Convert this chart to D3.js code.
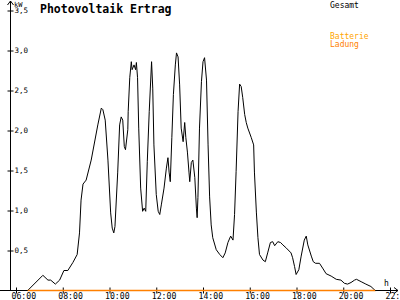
<!DOCTYPE html>
<html>
<head>
<meta charset="utf-8">
<script src="https://cdn.jsdelivr.net/npm/d3@7/dist/d3.min.js"></script>
<style>
  body { margin: 0; background: #fff; }
  svg { display: block; }
  text { font-family: "DejaVu Sans Mono", monospace; }
</style>
</head>
<body>
<script>
// Gesamt (kW)
var gesamtTimes = ["06:30","07:09","07:22","07:29","07:41","07:52","08:03","08:13","08:26","08:37",
  "08:43","08:47","08:52","09:00","09:13","09:30","09:39","09:43","09:49","09:56",
  "10:03","10:07","10:11","10:14","10:21","10:26","10:30","10:34","10:38","10:41",
  "10:47","10:48","10:52","10:56","10:58","11:03","11:07","11:09","11:12","11:15",
  "11:20","11:25","11:29","11:33","11:37","11:42","11:48","11:51","11:54","12:00",
  "12:05","12:09","12:13","12:20","12:26","12:30","12:33","12:36","12:40","12:44",
  "12:49","12:52","12:56","13:00","13:04","13:09","13:13","13:16","13:20","13:24",
  "13:26","13:30","13:34","13:39","13:43","13:45","13:47","13:51","13:56","14:00",
  "14:04","14:09","14:13","14:17","14:21","14:25","14:34","14:43","14:51","14:57",
  "15:04","15:11","15:17","15:21","15:25","15:30","15:34","15:38","15:42","15:47",
  "15:51","15:55","16:04","16:10","16:12","16:17","16:21","16:25","16:34","16:40",
  "16:46","16:53","16:59","17:04","17:12","17:19","17:25","17:34","17:46","17:50",
  "17:55","17:59","18:06","18:12","18:20","18:25","18:29","18:38","18:43","18:49",
  "18:59","19:07","19:16","19:29","19:42","19:54","20:03","20:11","20:20","20:29",
  "20:34","20:46","20:58","21:11","21:22"];
var gesamtValues = [0,0.19,0.13,0.13,0.08,0.13,0.25,0.25,0.35,0.45,
  0.72,1.13,1.33,1.38,1.63,2.07,2.28,2.26,2.13,1.63,
  0.97,0.78,0.72,0.80,1.47,2.07,2.17,2.13,1.80,1.76,
  2.01,2.24,2.66,2.86,2.76,2.82,2.76,2.85,2.66,2.03,
  1.28,0.99,1.03,0.99,1.61,2.24,2.86,2.53,1.82,1.20,
  0.99,0.95,1.07,1.28,1.53,1.66,1.48,1.36,1.91,2.45,
  2.82,2.97,2.92,2.57,2.03,1.86,2.10,1.91,1.73,1.48,
  1.36,1.60,1.63,1.41,1.03,0.91,1.16,2.03,2.61,2.86,
  2.91,2.63,1.82,1.17,0.82,0.66,0.51,0.45,0.41,0.47,
  0.60,0.68,0.63,0.95,1.49,2.24,2.58,2.55,2.41,2.20,
  2.10,2.03,1.91,1.82,1.48,0.98,0.66,0.45,0.38,0.36,
  0.47,0.60,0.61,0.56,0.61,0.60,0.57,0.53,0.47,0.41,
  0.30,0.20,0.26,0.43,0.63,0.68,0.57,0.43,0.36,0.34,
  0.34,0.28,0.21,0.18,0.14,0.13,0.09,0.08,0.10,0.13,
  0.14,0.11,0.08,0.05,0];

// Batterie Ladung (kW)
var ladungTimes = ["06:30","21:22"];
var ladungValues = [0,0];

var yTicks = [0.5,1,1.5,2,2.5,3,3.5];
var xTicks = [6,8,10,12,14,16,18,20,22];

var W = 400, H = 300;

function hours(s) {
  var p = s.split(":");
  return +p[0] + (+p[1]) / 60;
}

var x = d3.scaleLinear().domain([6, 22]).range([16, 390]);
var y = d3.scaleLinear().domain([0, 3.5]).range([290.5, 10.5]);

var svg = d3.select("body").append("svg").attr("width", W).attr("height", H);

// y axis
var gy = svg.append("g").attr("transform", "translate(10.5,0)")
  .call(d3.axisLeft(y).tickValues(yTicks).tickSize(0).tickPadding(0)
    .tickFormat(function (d) { return d3.format(".1f")(d).replace(".", ","); }));
gy.select(".domain").remove();
gy.selectAll(".tick line").attr("x1", -3).attr("x2", 3).attr("stroke", "#000");
gy.selectAll(".tick text").attr("x", 4).attr("dy", "0.32em")
  .attr("text-anchor", "start").attr("font-size", 7.5)
  .attr("font-family", "DejaVu Sans Mono").attr("fill", "#000");

// x axis
var gx = svg.append("g").attr("transform", "translate(0,290.5)")
  .call(d3.axisBottom(x).tickValues(xTicks).tickSize(0).tickPadding(0)
    .tickFormat(function (d) { return d3.format("02d")(d) + ":00"; }));
gx.select(".domain").remove();
gx.selectAll(".tick line").attr("y1", -3).attr("y2", 3).attr("stroke", "#000");
gx.selectAll(".tick text").attr("x", -5).attr("y", 8).attr("dy", 0)
  .attr("text-anchor", "start").attr("font-size", 8.2)
  .attr("font-family", "DejaVu Sans Mono").attr("fill", "#000");

// axis lines with arrows
svg.append("line").attr("x1", 10.5).attr("x2", 10.5).attr("y1", 1).attr("y2", 291)
  .attr("stroke", "#000");
svg.append("path").attr("d", "M7.5,5 L10.5,1 L13.5,5").attr("fill", "none").attr("stroke", "#000");
svg.append("line").attr("x1", 0).attr("x2", 398).attr("y1", 290.5).attr("y2", 290.5)
  .attr("stroke", "#000");
svg.append("path").attr("d", "M394,287.5 L398,290.5 L394,293.5").attr("fill", "none").attr("stroke", "#000");

svg.append("text").attr("x", 14).attr("y", 7).attr("font-size", 7).text("kW");
svg.append("text").attr("x", 384).attr("y", 286).attr("font-size", 8).text("h");

// series
var line = d3.line()
  .x(function (d) { return x(hours(d[0])); })
  .y(function (d) { return y(d[1]); });

svg.append("path")
  .datum(d3.zip(gesamtTimes, gesamtValues))
  .attr("d", line)
  .attr("fill", "none")
  .attr("stroke", "#000")
  .attr("stroke-width", 1);

svg.append("path")
  .datum(d3.zip(ladungTimes, ladungValues))
  .attr("d", line)
  .attr("fill", "none")
  .attr("stroke", "#ff8000")
  .attr("stroke-width", 1.5);

// title and legend
svg.append("text").attr("x", 40).attr("y", 13)
  .attr("font-size", 11.5).attr("font-weight", "bold").text("Photovoltaik Ertrag");

svg.append("text").attr("x", 330).attr("y", 8).attr("font-size", 8).attr("fill", "#000").text("Gesamt");
svg.append("text").attr("x", 330).attr("y", 39).attr("font-size", 8).attr("fill", "#ffa500").text("Batterie");
svg.append("text").attr("x", 330).attr("y", 46.5).attr("font-size", 8).attr("fill", "#ff8000").text("Ladung");
</script>
</body>
</html>
